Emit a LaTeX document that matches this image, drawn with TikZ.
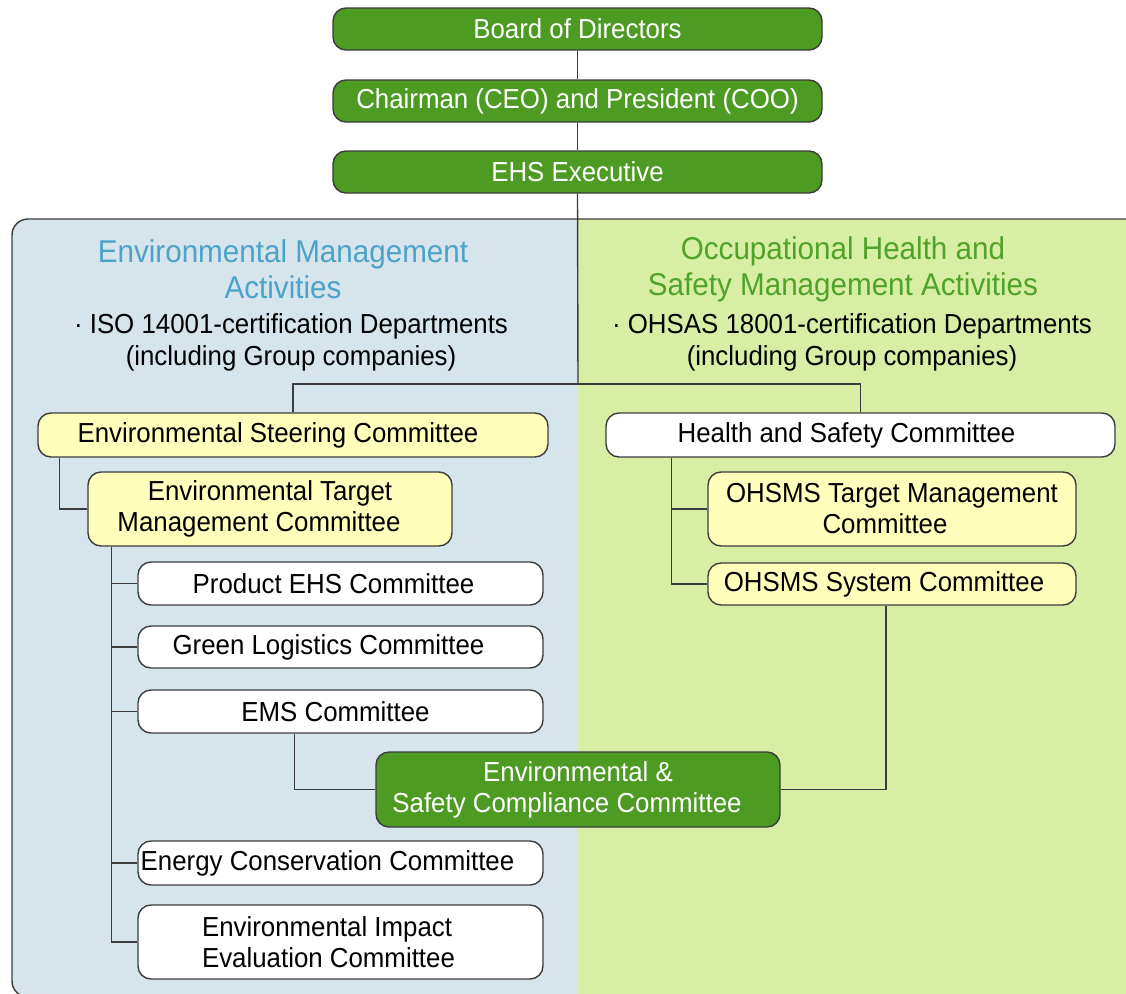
\documentclass[tikz,border=0pt]{standalone}
\usepackage{fontspec}
\setmainfont{Liberation Sans}[FakeStretch=0.94]
\definecolor{panelblue}{RGB}{214,228,236}
\definecolor{panelgreen}{RGB}{217,238,165}
\definecolor{boxgreen}{RGB}{78,155,36}
\definecolor{boxyellow}{RGB}{255,255,187}
\definecolor{lineclr}{RGB}{60,60,60}
\definecolor{headblue}{RGB}{75,163,199}
\definecolor{headgreen}{RGB}{78,163,42}
\tikzset{
  basebox/.style={draw=lineclr, line width=1.4pt, rounded corners=13pt, inner sep=0pt,
    font=\fontsize{27.5}{31}\selectfont, align=center},
  greenbox/.style={basebox, fill=boxgreen, text=white},
  yellowbox/.style={basebox, fill=boxyellow, text=black},
  whitebox/.style={basebox, fill=white, text=black},
  conn/.style={draw=lineclr, line width=1.4pt},
  headtext/.style={font=\fontsize{31.5}{36}\selectfont, align=center, inner sep=0pt},
  subtext/.style={font=\fontsize{27.5}{32}\selectfont, align=center, inner sep=0pt, text=black},
}
\begin{document}
\begin{tikzpicture}[x=1pt,y=-1pt]
\useasboundingbox (0,0) rectangle (1126,993);
\begin{scope}
\clip (0,0) rectangle (1126,993);
% panels
\fill[panelgreen] (578,219) rectangle (1140,1005);
\fill[panelblue, rounded corners=16pt] (578,219) -- (12,219) -- (12,997) -- (578,997) -- cycle;
\fill[panelblue] (560,219) rectangle (578,1005);
\draw[conn, rounded corners=16pt] (1140,219) -- (12,219) -- (12,997) -- (200,997);
\end{scope}

% headings
\node[headtext, text=headblue] (lhead) at (283,269) {Environmental Management\\Activities};
\node[subtext] (lsub) at (291,342) {· ISO 14001-certification Departments\\(including Group companies)};
\node[headtext, text=headgreen] (rhead) at (843,269) {Occupational Health and\\Safety Management Activities};
\node[subtext] (rsub) at (852,342) {· OHSAS 18001-certification Departments\\(including Group companies)};

% top chain
\node[greenbox, minimum width=489pt, minimum height=42pt] (bod) at (577.5,29) {Board of Directors};
\node[greenbox, minimum width=489pt, minimum height=42pt] (chair) at (577.5,101) {Chairman (CEO) and President (COO)};
\node[greenbox, minimum width=489pt, minimum height=42pt] (ehs) at (577.5,172) {EHS Executive};

% left side
\node[yellowbox, minimum width=510pt, minimum height=44pt] (esc) at (293,435) {Environmental Steering Committee\hspace*{30pt}};
\node[yellowbox, minimum width=364pt, minimum height=74pt] (etm) at (270,509) {Environmental Target\\Management Committee\hspace*{22pt}};
\node[whitebox, minimum width=405pt, minimum height=43pt] (pehs) at (340.5,583.5) {Product EHS Committee\hspace*{14pt}};
\node[whitebox, minimum width=405pt, minimum height=42pt] (glc) at (340.5,647) {Green Logistics Committee\hspace*{24pt}};
\node[whitebox, minimum width=405pt, minimum height=43pt] (ems) at (340.5,711.5) {EMS Committee\hspace*{10pt}};
\node[whitebox, minimum width=405pt, minimum height=44pt] (ecc) at (340.5,863) {Energy Conservation Committee\hspace*{26pt}};
\node[whitebox, minimum width=405pt, minimum height=74pt, align=left] (eie) at (340.5,942) {Environmental Impact\\Evaluation Committee\hspace*{24pt}};

% compliance
\node[greenbox, minimum width=404pt, minimum height=75pt] (escc) at (578,789.5) {Environmental \&\\Safety Compliance Committee\hspace*{22pt}};

% right side
\node[whitebox, minimum width=509pt, minimum height=44pt] (hsc) at (860.5,435) {Health and Safety Committee\hspace*{28pt}};
\node[yellowbox, minimum width=368pt, minimum height=74pt] (otm) at (892,509) {OHSMS Target Management\\Committee\hspace*{14pt}};
\node[yellowbox, minimum width=368pt, minimum height=42pt] (osc) at (892,584) {OHSMS System Committee\hspace*{16pt}};

% connectors
\coordinate (j1) at (578,384);
\draw[conn] (bod.south) -- (chair.north);
\draw[conn] (chair.south) -- (ehs.north);
\draw[conn] (ehs.south) -- (j1);
\draw[conn] (esc.north) |- (j1) -| (hsc.north);

\draw[conn] ([xshift=22pt]esc.south west) |- (etm.west);
\coordinate (spine) at ([xshift=24pt]etm.south west);
\draw[conn] (spine) |- (eie.west);
\foreach \n in {pehs,glc,ems,ecc} \draw[conn] (\n.west) -- (\n.west -| spine);

\draw[conn] ([xshift=-46pt]ems.south) |- (escc.west);
\draw[conn] ([xshift=-6pt]osc.south) |- (escc.east);

\coordinate (hspine) at ([xshift=66pt]hsc.south west);
\draw[conn] (hspine) |- (osc.west);
\draw[conn] (otm.west) -- (otm.west -| hspine);
\end{tikzpicture}
\end{document}
